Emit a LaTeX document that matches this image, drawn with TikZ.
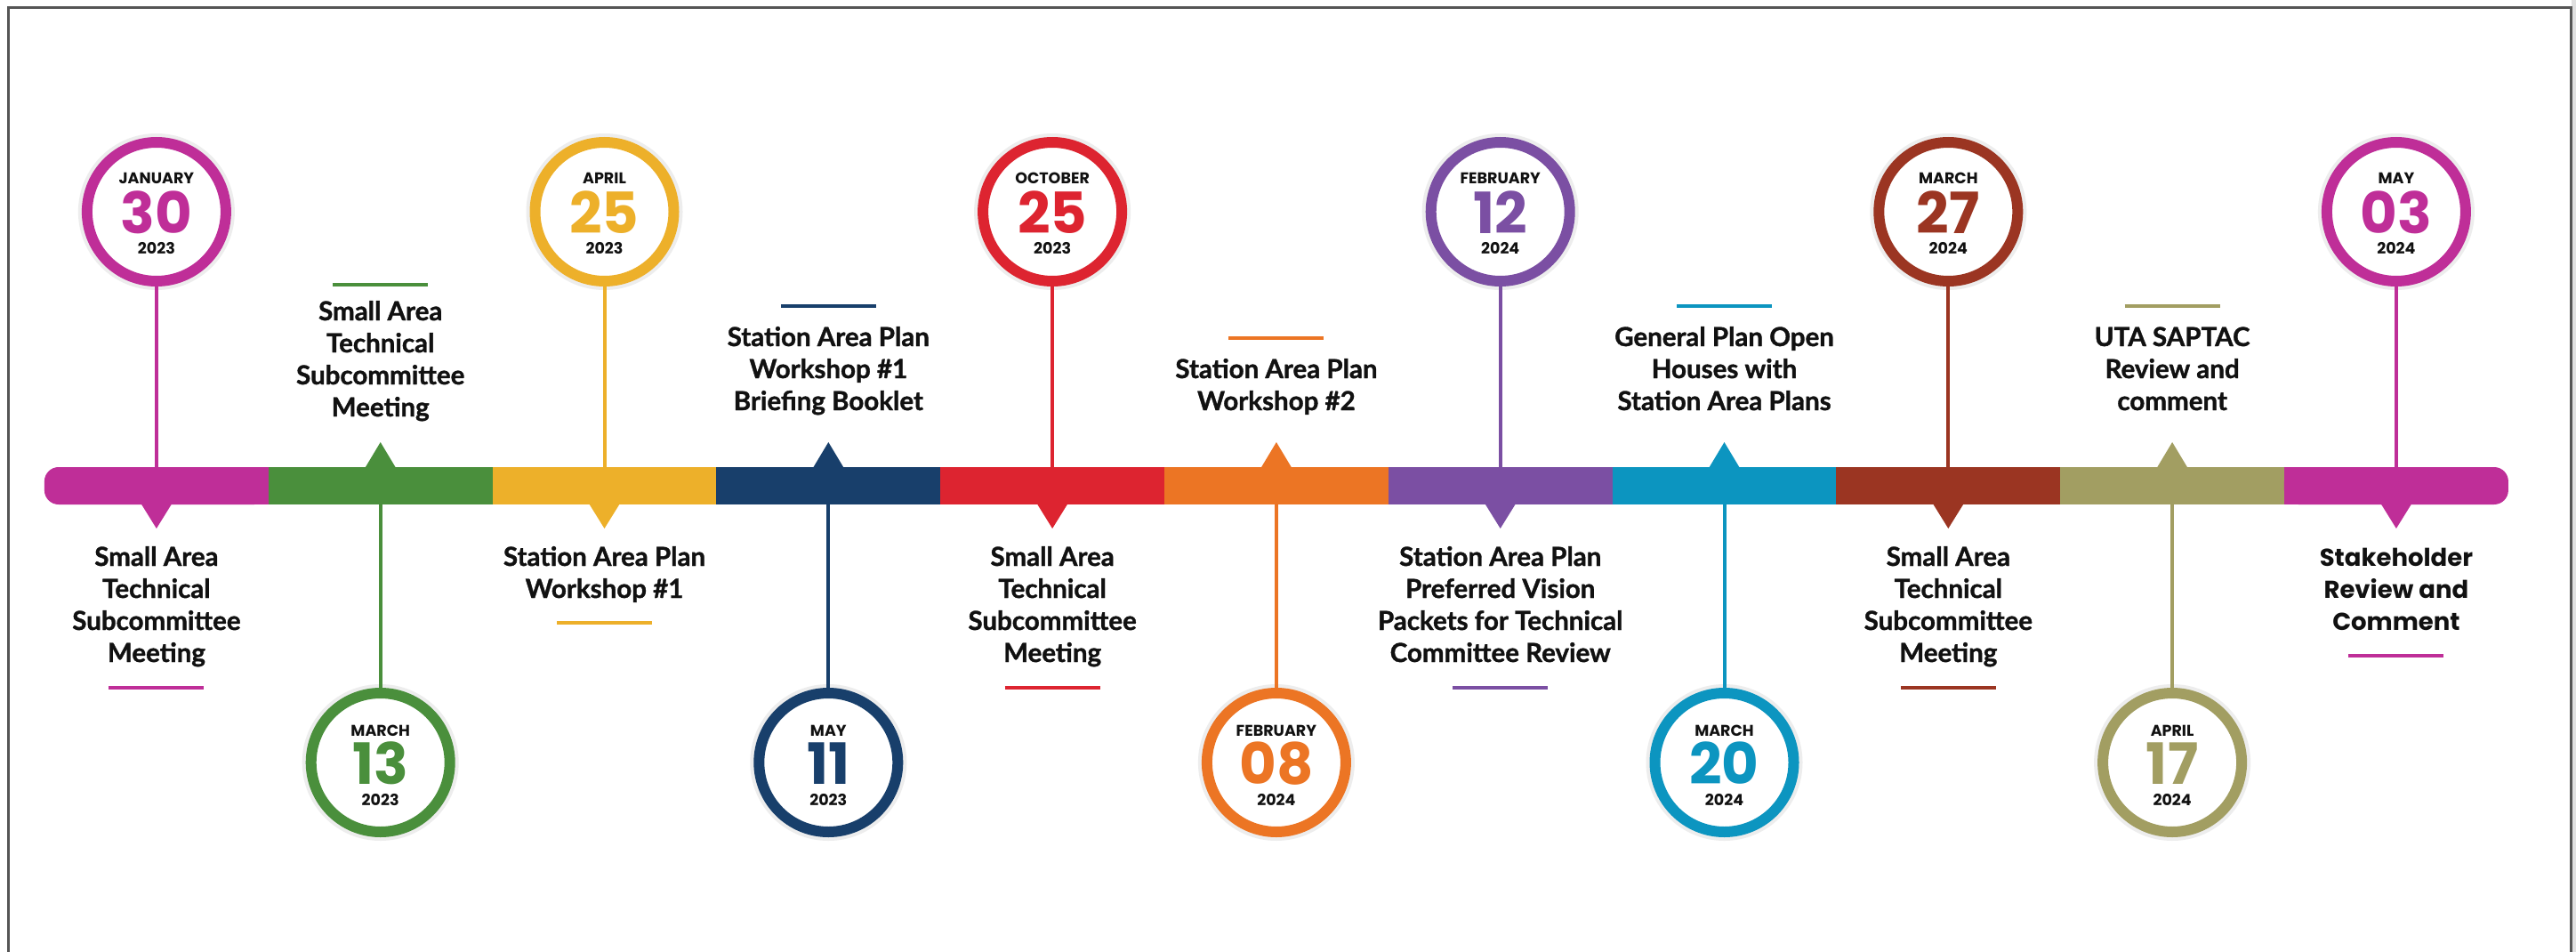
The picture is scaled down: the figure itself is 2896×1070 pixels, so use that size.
\documentclass[tikz,border=0pt]{standalone}
\usepackage{fontspec}
\setmainfont{Lato}[BoldFeatures={FakeBold=1.2}]
\newfontfamily\datefont{Poppins}
\newfontfamily\widefont{Poppins}
\definecolor{cA}{HTML}{BF2E98}
\definecolor{cB}{HTML}{4A8F3C}
\definecolor{cC}{HTML}{EDB02A}
\definecolor{cD}{HTML}{183F6B}
\definecolor{cE}{HTML}{DD2430}
\definecolor{cF}{HTML}{EC7524}
\definecolor{cG}{HTML}{7B4FA3}
\definecolor{cH}{HTML}{0C95C0}
\definecolor{cI}{HTML}{9B3522}
\definecolor{cJ}{HTML}{A29E62}
\definecolor{cK}{HTML}{BF2E98}
\definecolor{txt}{HTML}{111111}
\definecolor{framec}{HTML}{555555}
\tikzset{
  seg/.style={rectangle, minimum width=252pt, minimum height=42pt, inner sep=0pt, draw=none},
  datering/.style={circle, line width=12pt, fill=white, minimum size=156pt, inner sep=0pt,
    preaction={draw=black!7, line width=20pt}},
  stem/.style={line width=4pt},
  lbl/.style={font=\bfseries\fontsize{29.5}{36}\selectfont, align=center, inner sep=0pt, anchor=base, text=txt},
  widelbl/.style={lbl, font=\widefont\bfseries\fontsize{27.5}{36}\selectfont},
  markline/.style={line width=4pt},
  mon/.style={font=\datefont\bfseries\fontsize{17.5}{18}\selectfont, inner sep=0pt, text=txt},
  num/.style={font=\datefont\bfseries\fontsize{64}{64}\selectfont, inner sep=0pt},
}
\begin{document}
\begin{tikzpicture}[x=1pt,y=-1pt]
\useasboundingbox (0,0) rectangle (2896,1070);
\fill[white] (0,0) rectangle (2896,1070);
\fill[black!12] (2891,0) rectangle (2896,1070);
\draw[framec, line width=3pt] (9,1070) -- (9,9) -- (2890,9) -- (2890,1070);

% ---- bar segments
\foreach \i/\c in {1/cB,2/cC,3/cD,4/cE,5/cF,6/cG,7/cH,8/cI,9/cJ} {
  \node[seg, fill=\c] (s\i) at ({175.9+251.8*\i},546) {};
}
\node[seg, fill=cA, rounded corners=16pt] (s0) at (175.9,546) {};
\fill[cA] (240,525) rectangle (302.3,567);
\node[seg, fill=cK, rounded corners=16pt] (s10) at ({175.9+251.8*10},546) {};
\fill[cK] (2567.5,525) rectangle (2650,567);

% ---- top events (circle above the bar)
\foreach \i/\c/\m/\n/\y in {0/cA/JANUARY/30/2023, 2/cC/APRIL/25/2023, 4/cE/OCTOBER/25/2023,
    6/cG/FEBRUARY/12/2024, 8/cI/MARCH/27/2024, 10/cK/MAY/03/2024} {
  \pgfmathsetmacro\xx{175.9+251.8*\i}
  \node[datering, draw=\c] (c\i) at (\xx,238) {};
  \draw[stem, \c] (c\i.south) -- (c\i.south |- s\i.north);
  \fill[\c] (\xx-18,565) -- (\xx+18,565) -- (\xx,594) -- cycle;
  \node[mon] (m\i) at ([yshift=38pt]c\i.center) {\m};
  \node[num, text=\c] (n\i) at ([yshift=-1pt]c\i.center) {\n};
  \node[mon] (y\i) at ([yshift=-41pt]c\i.center) {\y};
}
% ---- bottom events (circle below the bar)
\foreach \i/\c/\m/\n/\y in {1/cB/MARCH/13/2023, 3/cD/MAY/11/2023, 5/cF/FEBRUARY/08/2024,
    7/cH/MARCH/20/2024, 9/cJ/APRIL/17/2024} {
  \pgfmathsetmacro\xx{175.9+251.8*\i}
  \node[datering, draw=\c] (c\i) at (\xx,857) {};
  \draw[stem, \c] (c\i.north |- s\i.south) -- (c\i.north);
  \fill[\c] (\xx-18,527) -- (\xx+18,527) -- (\xx,497) -- cycle;
  \node[mon] (m\i) at ([yshift=36pt]c\i.center) {\m};
  \node[num, text=\c] (n\i) at ([yshift=-1pt]c\i.center) {\n};
  \node[mon] (y\i) at ([yshift=-42pt]c\i.center) {\y};
}

% ---- labels below the bar (node placed at the baseline of its last line)
\node[lbl] (l0) at (175.9,744) {Small Area\\Technical\\Subcommittee\\Meeting};
\draw[markline, cA] (122.4,773) -- (229.4,773);
\node[lbl] (l2) at (679.5,672) {Station Area Plan\\Workshop \#1};
\draw[markline, cC] (626,700) -- (733,700);
\node[lbl] (l4) at (1183.1,744) {Small Area\\Technical\\Subcommittee\\Meeting};
\draw[markline, cE] (1129.6,773) -- (1236.6,773);
\node[lbl] (l6) at (1686.7,744) {Station Area Plan\\Preferred Vision\\Packets for Technical\\Committee Review};
\draw[markline, cG] (1633.2,773) -- (1740.2,773);
\node[lbl] (l8) at (2190.3,744) {Small Area\\Technical\\Subcommittee\\Meeting};
\draw[markline, cI] (2136.8,773) -- (2243.8,773);
\node[widelbl] (l10) at (2693.9,708) {Stakeholder\\Review and\\Comment};
\draw[markline, cK] (2640.4,737) -- (2747.4,737);

% ---- labels above the bar
\node[lbl] (l1) at (427.7,468) {Small Area\\Technical\\Subcommittee\\Meeting};
\draw[markline, cB] (374.2,320) -- (481.2,320);
\node[lbl] (l3) at (931.3,461) {Station Area Plan\\Workshop \#1\\Briefing Booklet};
\draw[markline, cD] (877.8,344) -- (984.8,344);
\node[lbl] (l5) at (1434.9,461) {Station Area Plan\\Workshop \#2};
\draw[markline, cF] (1381.4,380) -- (1488.4,380);
\node[lbl] (l7) at (1938.5,461) {General Plan Open\\Houses with\\Station Area Plans};
\draw[markline, cH] (1885,344) -- (1992,344);
\node[lbl] (l9) at (2442.1,461) {UTA SAPTAC\\Review and\\comment};
\draw[markline, cJ] (2388.6,344) -- (2495.6,344);
\end{tikzpicture}
\end{document}
